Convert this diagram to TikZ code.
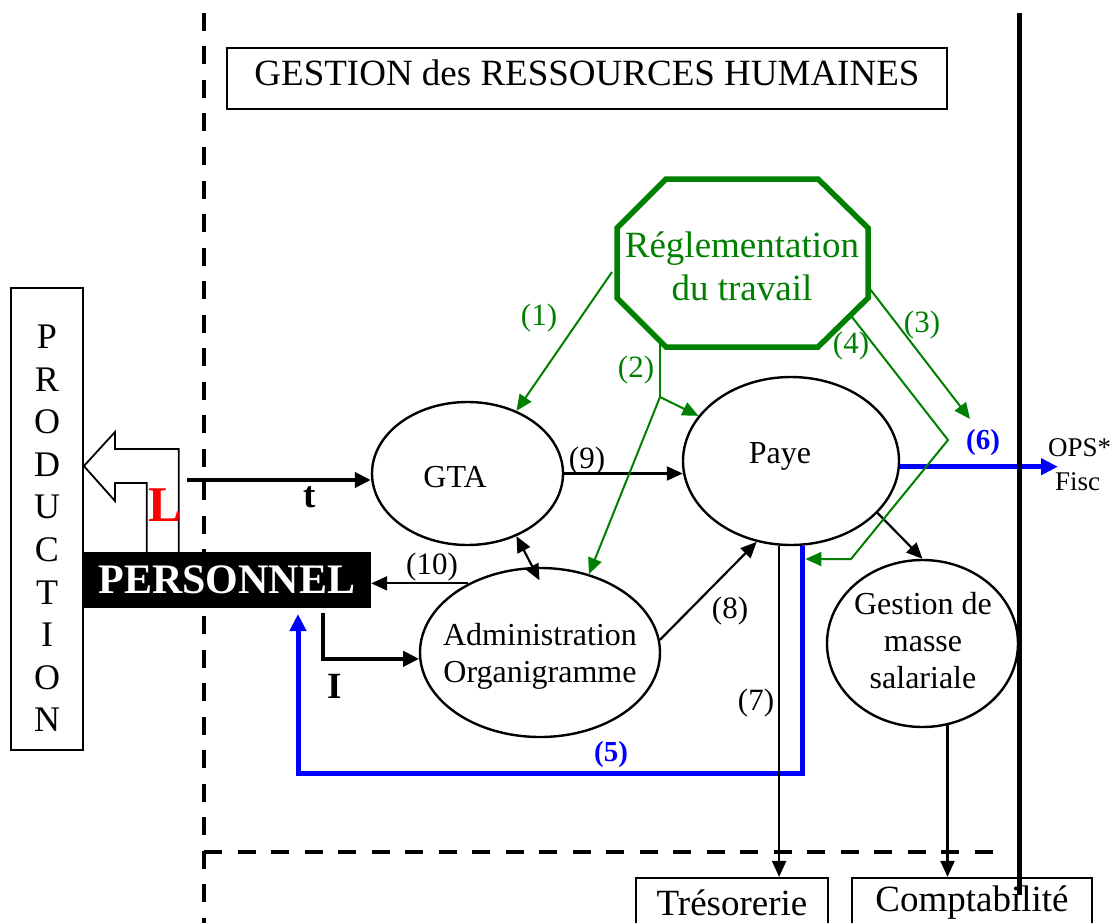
\documentclass[tikz,border=0pt]{standalone}
\usepackage{fontspec}
\setmainfont{Liberation Serif}
\usetikzlibrary{arrows.meta,shapes.geometric,calc}
\definecolor{grn}{RGB}{0,128,0}
\definecolor{blu}{RGB}{0,0,255}
\newcommand\myfA{\fontsize{31}{37}\selectfont}
\newcommand\myfE{\fontsize{32}{37}\selectfont}
\newcommand\myfT{\fontsize{37}{44}\selectfont}
\newcommand\myfG{\fontsize{37}{43}\selectfont}
\newcommand\myfP{\fontsize{42}{50}\selectfont}
\newcommand\myfR{\fontsize{36}{42.6}\selectfont}
\newcommand\myfL{\fontsize{50}{60}\selectfont}
\newcommand\myfB{\fontsize{29}{35}\selectfont}
\newcommand\myfO{\fontsize{27}{32}\selectfont}
\tikzset{
 ln/.style={line width=2.2pt},
 arr/.style={ln, -{Triangle[length=16pt,width=14pt]}},
 dblarr/.style={ln, {Triangle[length=16pt,width=14pt]}-{Triangle[length=16pt,width=14pt]}},
 gln/.style={line width=2pt, color=grn},
 garr/.style={gln, -{Triangle[length=16pt,width=14pt]}},
 thkarr/.style={line width=4.5pt, -{Triangle[length=16pt,width=15pt]}},
 barr/.style={line width=5pt, color=blu, line join=miter, -{Triangle[length=17pt,width=16pt]}},
 ell/.style={ellipse, draw, line width=2.4pt, inner sep=0pt},
 rbox/.style={draw, line width=2.2pt, inner sep=0pt},
 lbl/.style={font=\myfA, inner sep=0pt},
 glbl/.style={lbl, text=grn},
 blbl/.style={font=\myfB\bfseries, text=blu, inner sep=0pt},
 dsh/.style={line width=4.5pt, dash pattern=on 18pt off 15.5pt},
}
\begin{document}
\begin{tikzpicture}[x=1pt,y=-1pt]
\useasboundingbox (0,0) rectangle (1113,923);
% frontier lines
\draw[dsh] (204,13) -- (204,923);
\draw[dsh] (204,852) -- (1007,852);
% title
\node[rbox, minimum width=720pt, minimum height=61pt, font=\myfT, text height=25pt, text depth=10pt] (title) at (587,78.5) {GESTION des RESSOURCES HUMAINES};
% octagon
\draw[line width=5.5pt, grn, line join=miter] (666,179) -- (818,179) -- (868,228) -- (868,298) -- (818,347) -- (666,347) -- (617,298) -- (617,228) -- cycle;
\node[font=\myfG, text=grn, align=center, inner sep=0pt] (regl) at (742,266) {Réglementation\\du travail};
% ellipses
\node[ell, minimum width=191pt, minimum height=143pt] (gta) at (467.5,473.5) {};
\node[lbl, font=\myfE] (gtat) at (455,477) {GTA};
\node[ell, minimum width=216pt, minimum height=168pt] (paye) at (791,461) {};
\node[lbl, font=\myfE] (payet) at (780,456) {Paye};
\node[ell, minimum width=240pt, minimum height=169pt] (admin) at (540,652.5) {};
\node[lbl, font=\myfE, align=center] (admint) at (540,656) {Administration\\Organigramme};
\node[ell, minimum width=191pt, minimum height=167pt] (gest) at (922.5,643.5) {};
\node[lbl, font=\myfE, align=center] (gestt) at (923,640.5) {Gestion de\\masse\\salariale};
% personnel and production
\node[fill=black, text=white, font=\myfP\bfseries, minimum width=288pt, minimum height=56pt, inner sep=0pt] (pers) at (227,580) {PERSONNEL};
\node[rbox, line width=1.8pt, minimum width=72pt, minimum height=462pt] (prod) at (47,519) {};
\node[font=\myfR, align=center, inner sep=0pt] (prodt) at (47,528.5) {P\\R\\O\\D\\U\\C\\T\\I\\O\\N};
\draw[line width=1.8pt, line join=miter] ($(pers.north west)+(96,0)$) |- (115,449) -- (115,432) -- (prod.east |- 0,466) -- (115,501) -- (115,483) -| ($(pers.north west)+(64,0)$);
\node[font=\myfL\bfseries, text=red, inner sep=0pt] (L) at (165,505.5) {L};
\node[font=\myfT\bfseries, inner sep=0pt] (tl) at (310,497) {t};
\node[font=\myfT\bfseries, inner sep=0pt] (il) at (335,686) {I};
% bottom boxes
\node[rbox, font=\myfT, minimum width=192pt, minimum height=50pt] (tres) at (732,903) {Trésorerie};
\node[rbox, font=\myfT, minimum width=240pt, minimum height=50pt] (comp) at (972,903) {Comptabilité};
% blue flows
\coordinate (opsend) at (1058,467);
\draw[barr] (paye.-3) -- (paye.-3 -| opsend);
\coordinate (b5end) at (298,614);
\draw[barr] (paye.278) -- ++(0,228) -| (b5end);
% black flows
\coordinate (tst) at (187,480);
\draw[thkarr] (tst) -- (tst -| gta.west);
\draw[thkarr] ($(pers.south west)+(240,5)$) |- (admin.183);
\draw[arr] (gta.east) -- (gta.east -| paye.186);
\draw[dblarr, shorten >=-15pt] (gta.-52) -- (admin.95);
\draw[arr] (admin.136) -- (admin.136 -| pers.east);
\draw[arr] (admin.6) -- (paye.247);
\draw[arr] (paye.262) -- (paye.262 |- tres.north);
\draw[arr] (paye.-31) -- (gest.north);
\draw[arr] (gest.-73) -- (gest.-73 |- comp.north);
% green flows
\coordinate (g1) at (612,272);
\draw[garr] (g1) -- (gta.52);
\coordinate (g2a) at (660,341);
\coordinate (g2b) at (660,397);
\draw[gln] (g2a) -- (g2b);
\draw[garr] (g2b) -- (paye.154);
\draw[garr] (g2b) -- (admin.58);
\coordinate (g3a) at (870,289);
\coordinate (g3b) at (970,419);
\draw[garr] (g3a) -- (g3b);
\coordinate (g4a) at (852,317);
\coordinate (g4b) at (948,440);
\coordinate (g4c) at (851,559);
\draw[garr] (g4a) -- (g4b) -- (g4c) -- ($(g4c -| paye.278)+(2.5,0)$);
% labels
\node[glbl] (l1) at (539,318) {(1)};
\node[glbl] (l2) at (636,370) {(2)};
\node[glbl] (l3) at (922,325) {(3)};
\node[glbl] (l4) at (851,346) {(4)};
\node[blbl] (l5) at (611,755) {(5)};
\node[blbl] (l6) at (983,443) {(6)};
\node[lbl] (l7) at (756,703) {(7)};
\node[lbl] (l8) at (730,611) {(8)};
\node[lbl] (l9) at (587,461) {(9)};
\node[lbl] (l10) at (432,567) {(10)};
\node[font=\myfO, anchor=base west, inner sep=0pt] (ops) at (1048,456) {OPS*};
\node[font=\myfO, anchor=base west, inner sep=0pt] (fisc) at (1055,490) {Fisc};
% right frontier
\draw[line width=5pt] (1019,13) -- (1019,895);
\end{tikzpicture}
\end{document}
